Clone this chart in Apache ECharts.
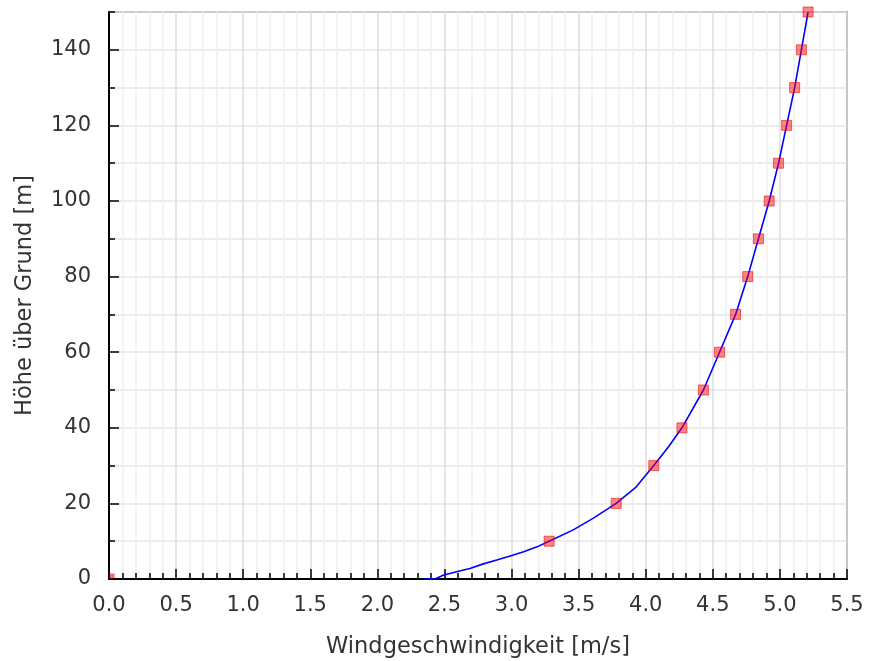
<!DOCTYPE html>
<html>
<head>
<meta charset="utf-8">
<script src="https://cdn.jsdelivr.net/npm/echarts@6/dist/echarts.min.js"></script>
<style>
  html, body { margin: 0; padding: 0; background: #fff; }
  #chart { width: 879px; height: 661px; }
</style>
</head>
<body>
<div id="chart"></div>
<script>
// Marker points (height above ground vs. wind speed)
const markerHeights = [10, 20, 30, 40, 50, 60, 70, 80, 90, 100, 110, 120, 130, 140, 150];
const markerSpeeds  = [3.28, 3.78, 4.06, 4.27, 4.43, 4.55, 4.67, 4.76, 4.84, 4.92, 4.99, 5.05, 5.11, 5.16, 5.21];

// Profile line
const profileHeights = [0, 0, 1.0, 1.9, 2.8, 4.0, 5.0, 6.1, 7.2, 8.5, 10, 13, 16.1, 20, 24.4, 26.6, 30, 35, 40, 50, 60, 70, 80, 90, 100, 110, 120, 130, 140, 150];
const profileSpeeds  = [2.34, 2.43, 2.49, 2.59, 2.69, 2.79, 2.89, 2.99, 3.09, 3.19, 3.28, 3.46, 3.61, 3.78, 3.93, 3.98, 4.06, 4.17, 4.27, 4.43, 4.55, 4.67, 4.76, 4.84, 4.92, 4.99, 5.05, 5.11, 5.16, 5.21];

// Ground marker
const groundSpeeds = [0];
const groundHeights = [0];

const xTitle = 'Windgeschwindigkeit [m/s]';
const yTitle = 'Höhe über Grund [m]';

const FONT = 'DejaVu Sans, sans-serif';

const chart = echarts.init(document.getElementById('chart'), null, { renderer: 'canvas' });

const lineData = profileSpeeds.map((v, i) => [v, profileHeights[i]]);
const markerData = markerSpeeds.map((v, i) => [v, markerHeights[i]]);
const groundData = groundSpeeds.map((v, i) => [v, groundHeights[i]]);

chart.setOption({
  animation: false,
  backgroundColor: '#ffffff',
  grid: {
    left: 109, right: 32, top: 12, bottom: 82,
    outerBoundsMode: 'none', containLabel: false,
    show: true, borderColor: '#555', borderWidth: 1.5, backgroundColor: '#ffffff'
  },
  xAxis: {
    type: 'value', min: 0, max: 5.5, interval: 0.5,
    name: xTitle, nameLocation: 'middle', nameGap: 57,
    nameTextStyle: { fontFamily: FONT, fontSize: 22.5, color: '#333' },
    axisLine: { show: true, onZero: false, lineStyle: { color: '#000', width: 2 } },
    axisTick: { show: true, inside: true, length: 10, lineStyle: { color: '#000', width: 1.5 } },
    minorTick: { show: true, splitNumber: 5, length: 6, lineStyle: { color: '#000', width: 1.5 } },
    axisLabel: { fontFamily: FONT, fontSize: 21, color: '#333', margin: 16,
      formatter: v => v.toFixed(1) },
    splitLine: { show: true, lineStyle: { color: '#dedede', width: 1.5 } },
    minorSplitLine: { show: true, lineStyle: { color: '#efefef', width: 1.5 } }
  },
  yAxis: [
    {
      type: 'value', min: 0, max: 150, interval: 10,
      name: yTitle, nameLocation: 'middle', nameGap: 72, nameRotate: 90,
      nameTextStyle: { fontFamily: FONT, fontSize: 22.5, color: '#333' },
      axisLine: { show: true, onZero: false, lineStyle: { color: '#000', width: 2 } },
      axisTick: { show: true, inside: true, length: 6, lineStyle: { color: '#000', width: 1.5 } },
      axisLabel: { show: false },
      splitLine: { show: true, lineStyle: { color: '#e6e6e6', width: 1.5 } }
    },
    {
      type: 'value', min: 0, max: 150, interval: 20, position: 'left',
      axisLine: { show: false },
      axisTick: { show: true, inside: true, length: 10, lineStyle: { color: '#000', width: 1.5 } },
      axisLabel: { fontFamily: FONT, fontSize: 21, color: '#333', margin: 18, showMaxLabel: false,
        formatter: v => (v % 20 === 0 ? String(v) : '') },
      splitLine: { show: false }
    }
  ],
  series: [
    {
      type: 'line', data: lineData, showSymbol: false, smooth: false,
      lineStyle: { color: '#0000ff', width: 1.6 }, z: 3
    },
    {
      type: 'scatter', data: markerData, symbol: 'rect', symbolSize: 10,
      itemStyle: { color: 'rgba(255,0,0,0.6)', borderColor: 'rgba(230,0,0,0.7)', borderWidth: 1 }, z: 4
    },
    {
      type: 'scatter', data: groundData, symbol: 'rect', symbolSize: 5, symbolOffset: [3, -3],
      itemStyle: { color: 'rgba(255,0,0,0.75)' }, z: 4
    }
  ]
});
</script>
</body>
</html>
